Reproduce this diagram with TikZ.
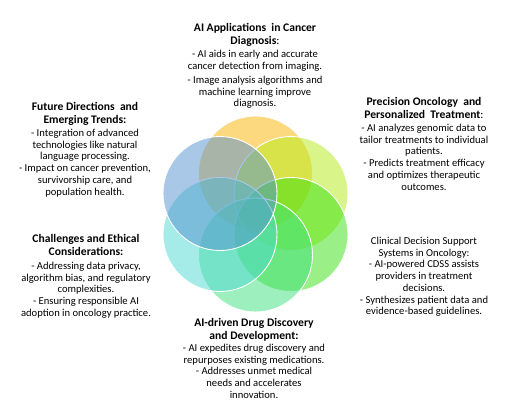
\documentclass[tikz,border=0pt]{standalone}
\usepackage{fontspec}
\setmainfont{Carlito}
\definecolor{cTop}{RGB}{250,180,0}
\definecolor{cUR}{RGB}{181,235,21}
\definecolor{cLR}{RGB}{55,225,15}
\definecolor{cBot}{RGB}{61,225,125}
\definecolor{cLL}{RGB}{77,217,209}
\definecolor{cUL}{RGB}{85,145,209}
\tikzset{
  petal/.style={circle, minimum size=114pt, inner sep=0pt, draw=white, line width=0.9pt, fill opacity=0.5},
  ttl/.style={align=center, inner sep=0pt, font=\fontsize{11.6}{13.6}\selectfont\bfseries},
  bdy/.style={align=center, inner sep=0pt, font=\fontsize{10.6}{11.7}\selectfont}
}
\begin{document}
\begin{tikzpicture}[x=1pt,y=-1pt]
\useasboundingbox (0,0) rectangle (529,417);
\fill[white] (0,0) rectangle (529,417);
% circles
\node[petal, fill=cTop] (pTop) at (255.5,173) {};
\node[petal, fill=cUR] (pUR) at (291,193.5) {};
\node[petal, fill=cLR] (pLR) at (291,234.5) {};
\node[petal, fill=cBot] (pBot) at (255.5,255) {};
\node[petal, fill=cLL] (pLL) at (220,234.5) {};
\node[petal, fill=cUL] (pUL) at (220,193.5) {};
% top block
\node[ttl, anchor=north] (t1) at (255,23) {AI Applications\ \ in Cancer\\Diagnosis\mdseries:};
\node[bdy, anchor=north] (b1) at (255,50) {- AI aids in early and accurate\\cancer detection from imaging.\\[2.5pt]- Image analysis algorithms and\\machine learning improve\\diagnosis.};
% precision block
\node[ttl, anchor=north] (t2) at (424,97) {Precision Oncology\ \ and\\Personalized\ \ Treatment\mdseries:};
\node[bdy, anchor=north] (b2) at (424,124) {- AI analyzes genomic data to\\tailor treatments to individual\\patients.\\- Predicts treatment efficacy\\and optimizes therapeutic\\outcomes.};
% clinical block
\node[bdy, anchor=north] (b3) at (424,237) {Clinical Decision Support\\Systems in Oncology:\\- AI-powered CDSS assists\\providers in treatment\\decisions.\\- Synthesizes patient data and\\evidence-based guidelines.};
% drug block
\node[ttl, anchor=north] (t4) at (254,318) {AI-driven Drug Discovery\\and Development:};
\node[bdy, anchor=north] (b4) at (254,344) {- AI expedites drug discovery and\\repurposes existing medications.\\- Addresses unmet medical\\needs and accelerates\\innovation.};
% challenges block
\node[ttl, anchor=north] (t5) at (86,234) {Challenges and Ethical\\Considerations:};
\node[bdy, anchor=north] (b5) at (86,262) {- Addressing data privacy,\\algorithm bias, and regulatory\\complexities.\\- Ensuring responsible AI\\adoption in oncology practice.};
% future block
\node[ttl, anchor=north] (t6) at (85,102) {Future Directions\ \ and\\Emerging Trends:};
\node[bdy, anchor=north] (b6) at (85,129) {- Integration of advanced\\technologies like natural\\language processing.\\- Impact on cancer prevention,\\survivorship care, and\\population health.};
\end{tikzpicture}
\end{document}
